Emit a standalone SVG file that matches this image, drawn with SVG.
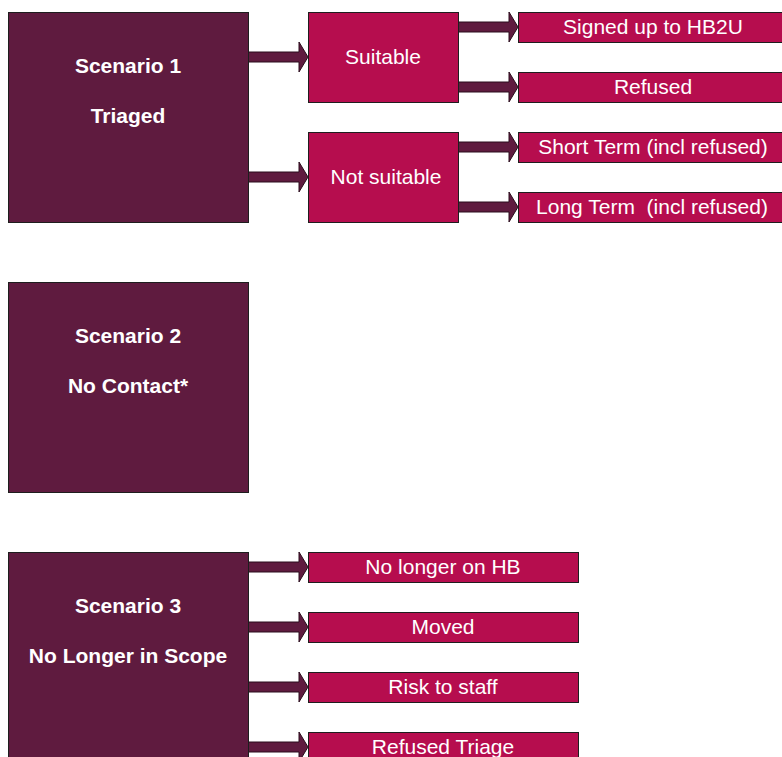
<svg xmlns="http://www.w3.org/2000/svg" width="782" height="757" viewBox="0 0 782 757">
<style>
.scen{fill:#5F1B3F;stroke:#1e1e1e;stroke-width:1}
.opt{fill:#B60D4E;stroke:#1e1e1e;stroke-width:1}
.arr{fill:#5F1B3F;stroke:#2a0d1c;stroke-width:1}
text{font-family:"Liberation Sans",Arial,sans-serif;font-size:21px;fill:#ffffff;text-anchor:middle}
.b{font-weight:bold}
</style>
<defs>
<path id="a60" d="M0,-5 H51 V-15 L60,0 L51,15 V5 H0 Z"/>
</defs>
<rect width="782" height="757" fill="#ffffff"/>
<g id="connectors">
<use href="#a60" class="arr" x="248" y="57"/>
<use href="#a60" class="arr" x="248" y="177"/>
<use href="#a60" class="arr" x="458" y="27"/>
<use href="#a60" class="arr" x="458" y="87"/>
<use href="#a60" class="arr" x="458" y="147"/>
<use href="#a60" class="arr" x="458" y="207"/>
<use href="#a60" class="arr" x="248" y="567"/>
<use href="#a60" class="arr" x="248" y="627"/>
<use href="#a60" class="arr" x="248" y="687"/>
<use href="#a60" class="arr" x="248" y="747"/>
</g>
<g id="scenario1"><rect class="scen" x="8.5" y="12.5" width="240" height="210"/><text class="b" x="128" y="73">Scenario 1</text><text class="b" x="128" y="123">Triaged</text></g>
<g id="scenario2"><rect class="scen" x="8.5" y="282.5" width="240" height="210"/><text class="b" x="128" y="343">Scenario 2</text><text class="b" x="128" y="393">No Contact*</text></g>
<g id="scenario3"><rect class="scen" x="8.5" y="552.5" width="240" height="210"/><text class="b" x="128" y="613">Scenario 3</text><text class="b" x="128" y="663">No Longer in Scope</text></g>
<g id="suitable"><rect class="opt" x="308.5" y="12.5" width="150" height="90"/><text x="383" y="64">Suitable</text></g>
<g id="notsuitable"><rect class="opt" x="308.5" y="132.5" width="150" height="90"/><text x="386" y="184">Not suitable</text></g>
<g id="signedup"><rect class="opt" x="518.5" y="12.5" width="270" height="30"/><text x="653" y="34">Signed up to HB2U</text></g>
<g id="refused"><rect class="opt" x="518.5" y="72.5" width="270" height="30"/><text x="653" y="94">Refused</text></g>
<g id="shortterm"><rect class="opt" x="518.5" y="132.5" width="270" height="30"/><text x="653" y="154">Short Term (incl refused)</text></g>
<g id="longterm"><rect class="opt" x="518.5" y="192.5" width="270" height="30"/><text x="652" y="214" xml:space="preserve">Long Term  (incl refused)</text></g>
<g id="nolongerhb"><rect class="opt" x="308.5" y="552.5" width="270" height="30"/><text x="443" y="574">No longer on HB</text></g>
<g id="moved"><rect class="opt" x="308.5" y="612.5" width="270" height="30"/><text x="443" y="634">Moved</text></g>
<g id="risk"><rect class="opt" x="308.5" y="672.5" width="270" height="30"/><text x="443" y="694">Risk to staff</text></g>
<g id="refusedtriage"><rect class="opt" x="308.5" y="732.5" width="270" height="30"/><text x="443" y="754">Refused Triage</text></g>
</svg>
